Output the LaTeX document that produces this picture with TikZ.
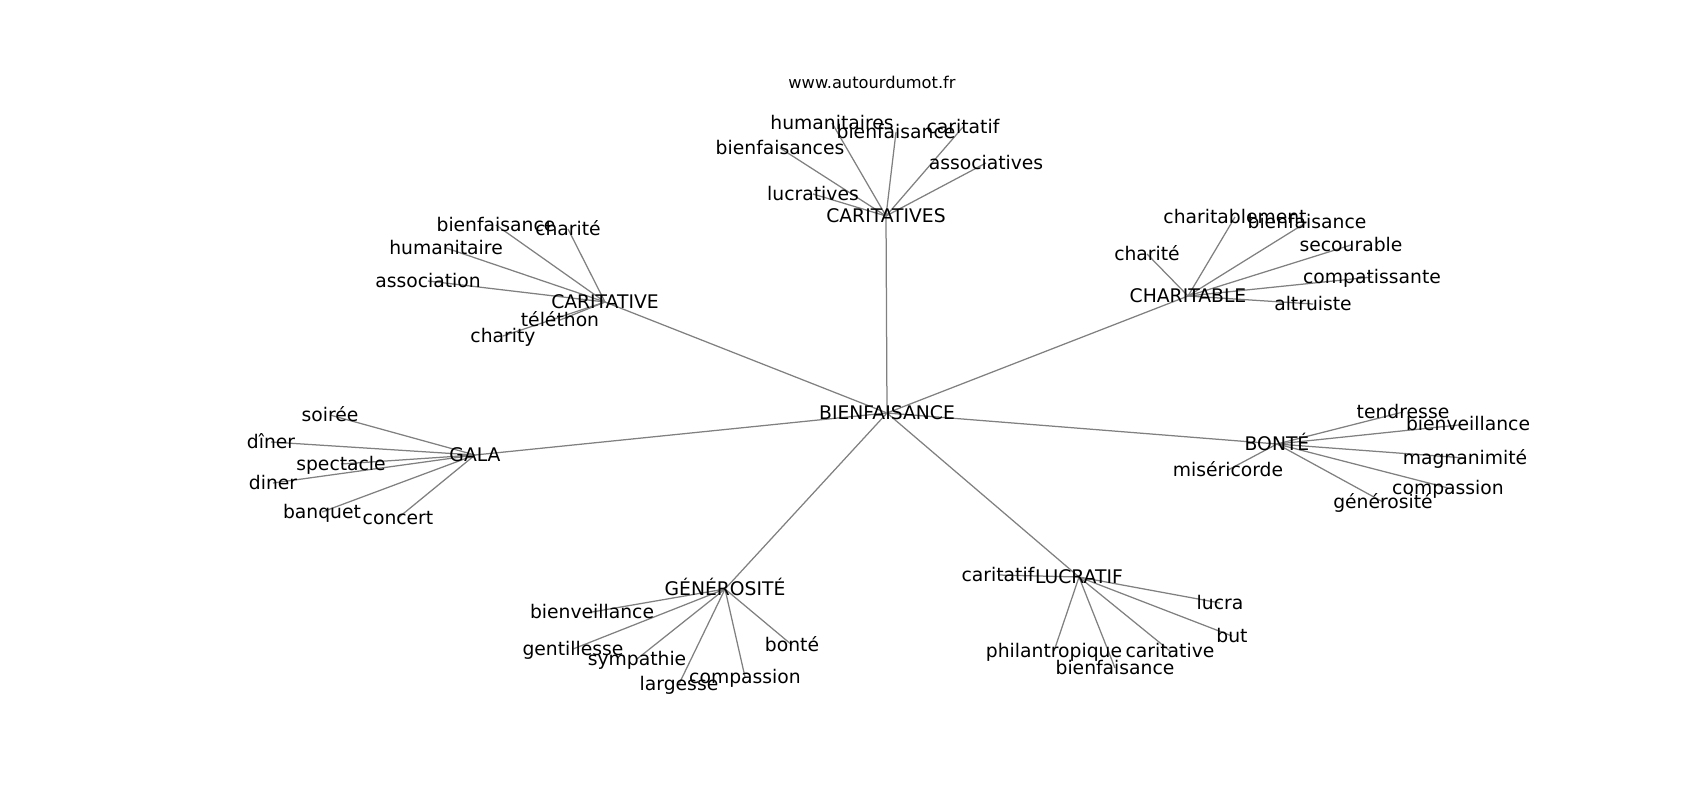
\documentclass[tikz,border=0pt]{standalone}
\usepackage{fontspec}
\setmainfont{DejaVu Sans}
\pgfdeclarelayer{bg}
\pgfsetlayers{bg,main}
\begin{document}
\begin{tikzpicture}[x=0.72pt,y=-0.72pt,
  lbl/.style={font=\fontsize{13.5}{16}\selectfont, inner sep=0pt, text height=9.8pt, text depth=0pt, anchor=center},
  ttl/.style={font=\fontsize{11.7}{14}\selectfont, inner sep=0pt, text height=8.5pt, text depth=0pt, anchor=center},
  edge/.style={draw=black!50, line width=0.9pt}]
\useasboundingbox (0,0) rectangle (1700,800);
\node[ttl] (title) at (872,83) {www.autourdumot.fr};
% centre and hubs
\node[lbl] (B) at (887,413) {BIENFAISANCE};
\node[lbl] (cs) at (886,216) {CARITATIVES};
\node[lbl] (cv) at (605,302) {CARITATIVE};
\node[lbl] (ch) at (1188,296) {CHARITABLE};
\node[lbl] (ga) at (475,455) {GALA};
\node[lbl] (bo) at (1277,444) {BONTÉ};
\node[lbl] (ge) at (725,589) {GÉNÉROSITÉ};
\node[lbl] (lu) at (1079,577) {LUCRATIF};
% CARITATIVES
\node[lbl] (cs1) at (832,123) {humanitaires};
\node[lbl] (cs2) at (896,132) {bienfaisance};
\node[lbl] (cs3) at (963,127) {caritatif};
\node[lbl] (cs4) at (780,148) {bienfaisances};
\node[lbl] (cs5) at (986,163) {associatives};
\node[lbl] (cs6) at (813,194) {lucratives};
% CARITATIVE
\node[lbl] (cv1) at (496,225) {bienfaisance};
\node[lbl] (cv2) at (568,229) {charité};
\node[lbl] (cv3) at (446,248) {humanitaire};
\node[lbl] (cv4) at (428,281) {association};
\node[lbl] (cv5) at (560,320) {téléthon};
\node[lbl] (cv6) at (503,336) {charity};
% CHARITABLE
\node[lbl] (ch1) at (1235,217) {charitablement};
\node[lbl] (ch2) at (1307,222) {bienfaisance};
\node[lbl] (ch3) at (1351,245) {secourable};
\node[lbl] (ch4) at (1147,254) {charité};
\node[lbl] (ch5) at (1372,277) {compatissante};
\node[lbl] (ch6) at (1313,304) {altruiste};
% GALA
\node[lbl] (ga1) at (330,415) {soirée};
\node[lbl] (ga2) at (271,442) {dîner};
\node[lbl] (ga3) at (341,464) {spectacle};
\node[lbl] (ga4) at (273,483) {diner};
\node[lbl] (ga5) at (322,512) {banquet};
\node[lbl] (ga6) at (398,518) {concert};
% BONTE
\node[lbl] (bo1) at (1403,412) {tendresse};
\node[lbl] (bo2) at (1468,424) {bienveillance};
\node[lbl] (bo3) at (1465,458) {magnanimité};
\node[lbl] (bo4) at (1228,470) {miséricorde};
\node[lbl] (bo5) at (1448,488) {compassion};
\node[lbl] (bo6) at (1383,502) {générosité};
% GENEROSITE
\node[lbl] (ge1) at (592,612) {bienveillance};
\node[lbl] (ge2) at (573,649) {gentillesse};
\node[lbl] (ge3) at (637,659) {sympathie};
\node[lbl] (ge4) at (792,645) {bonté};
\node[lbl] (ge5) at (745,677) {compassion};
\node[lbl] (ge6) at (679,684) {largesse};
% LUCRATIF
\node[lbl] (lu1) at (998,575) {caritatif};
\node[lbl] (lu2) at (1220,603) {lucra};
\node[lbl] (lu3) at (1232,636) {but};
\node[lbl] (lu4) at (1054,651) {philantropique};
\node[lbl] (lu5) at (1170,651) {caritative};
\node[lbl] (lu6) at (1115,668) {bienfaisance};
\begin{pgfonlayer}{bg}
\foreach \h in {cs,cv,ch,ga,bo,ge,lu}
  \draw[edge] (B.center) -- (\h.center);
\foreach \h in {cs,cv,ch,ga,bo,ge,lu}
  \foreach \i in {1,...,6}
    \draw[edge] (\h.center) -- (\h\i.center);
\end{pgfonlayer}
\end{tikzpicture}
\end{document}
